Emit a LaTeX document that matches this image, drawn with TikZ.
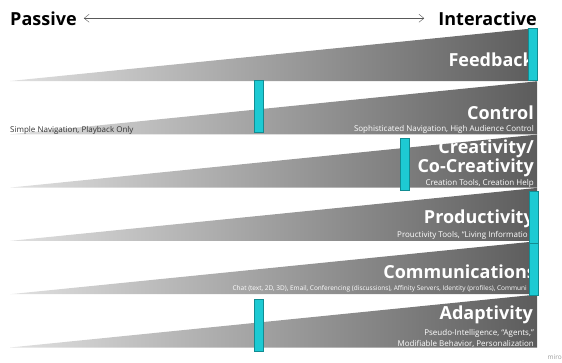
\documentclass[tikz,border=0pt]{standalone}
\usepackage{fontspec}
\setmainfont{Open Sans}
\usetikzlibrary{positioning, arrows.meta}
\definecolor{barcyan}{HTML}{1DCAD3}
\definecolor{baredge}{HTML}{128C92}

\begin{document}
\begin{tikzpicture}[x=1pt, y=-1pt, >={Straight Barb[length=5pt, width=8pt]},
    wedge/.style={left color=black!12, right color=black!64},
    bar/.style={fill=barcyan, draw=baredge, line width=0.5pt},
    heading/.style={font=\fontsize{18}{18}\selectfont\bfseries, inner sep=0pt, anchor=base east},
    title/.style={heading, text=white},
    detail/.style={font=\fontsize{8}{9}\selectfont, text=white, inner sep=0pt, anchor=base east}]
  \useasboundingbox (0,0) rectangle (562,362);

  \node[heading, anchor=base west] (passive) at (10,25) {Passive};
  \node[heading] (interactive) at (537,25) {Interactive};
  \draw[<->, black!65, shorten <=7pt, shorten >=14pt] (passive) -- (interactive);

  % the six bands
  \foreach \i in {0,...,5}
    \shade[wedge] (10,{81+53.3*\i}) -- (537,{28+53.3*\i}) -- (537,{81+53.3*\i}) -- cycle;

  \node[title] (feedback) at (534,66) {Feedback};

  \node[title] (control) at (534,119) {Control};
  \node[detail] (controlsub) at (534,131) {Sophisticated Navigation, High Audience Control};
  \node[detail, text=black!80, anchor=base west] (simple) at (10,132) {Simple Navigation, Playback Only};

  \node[title, align=right, font=\fontsize{18}{16.5}\selectfont\bfseries, anchor=north east]
    (creativity) at (534,140) {Creativity/\\Co-Creativity};
  \node[detail] (creativitysub) at (534,185) {Creation Tools, Creation Help};

  \node[title] (productivity) at (534,223) {Productivity};
  \node[detail] (productivitysub) at (528,237) {Prouctivity Tools, “Living Informatio};

  \node[title] (communications) at (536,278) {Communications};
  \node[detail, font=\fontsize{6.5}{7}\selectfont] (communicationssub) at (527,290)
    {Chat (text, 2D, 3D), Email, Conferencing (discussions), Affinity Servers, Identity (profiles), Communi};

  \node[title] (adaptivity) at (533,319) {Adaptivity};
  \node[detail] (adaptivitysub) at (534,335) {Pseudo-Intelligence, “Agents,”};
  \node[detail] (adaptivitysubb) at (534,346) {Modifiable Behavior, Personalization};

  % markers
  \foreach \x/\y in {528/28, 254/80, 400/138, 529/191, 529/243, 254/299}
    \filldraw[bar] (\x,\y) rectangle ++(9,52);

  \node[font=\fontsize{6.5}{7}\selectfont, text=black!40, anchor=base east, inner sep=0pt] (miro) at (562,359) {miro};
\end{tikzpicture}
\end{document}
